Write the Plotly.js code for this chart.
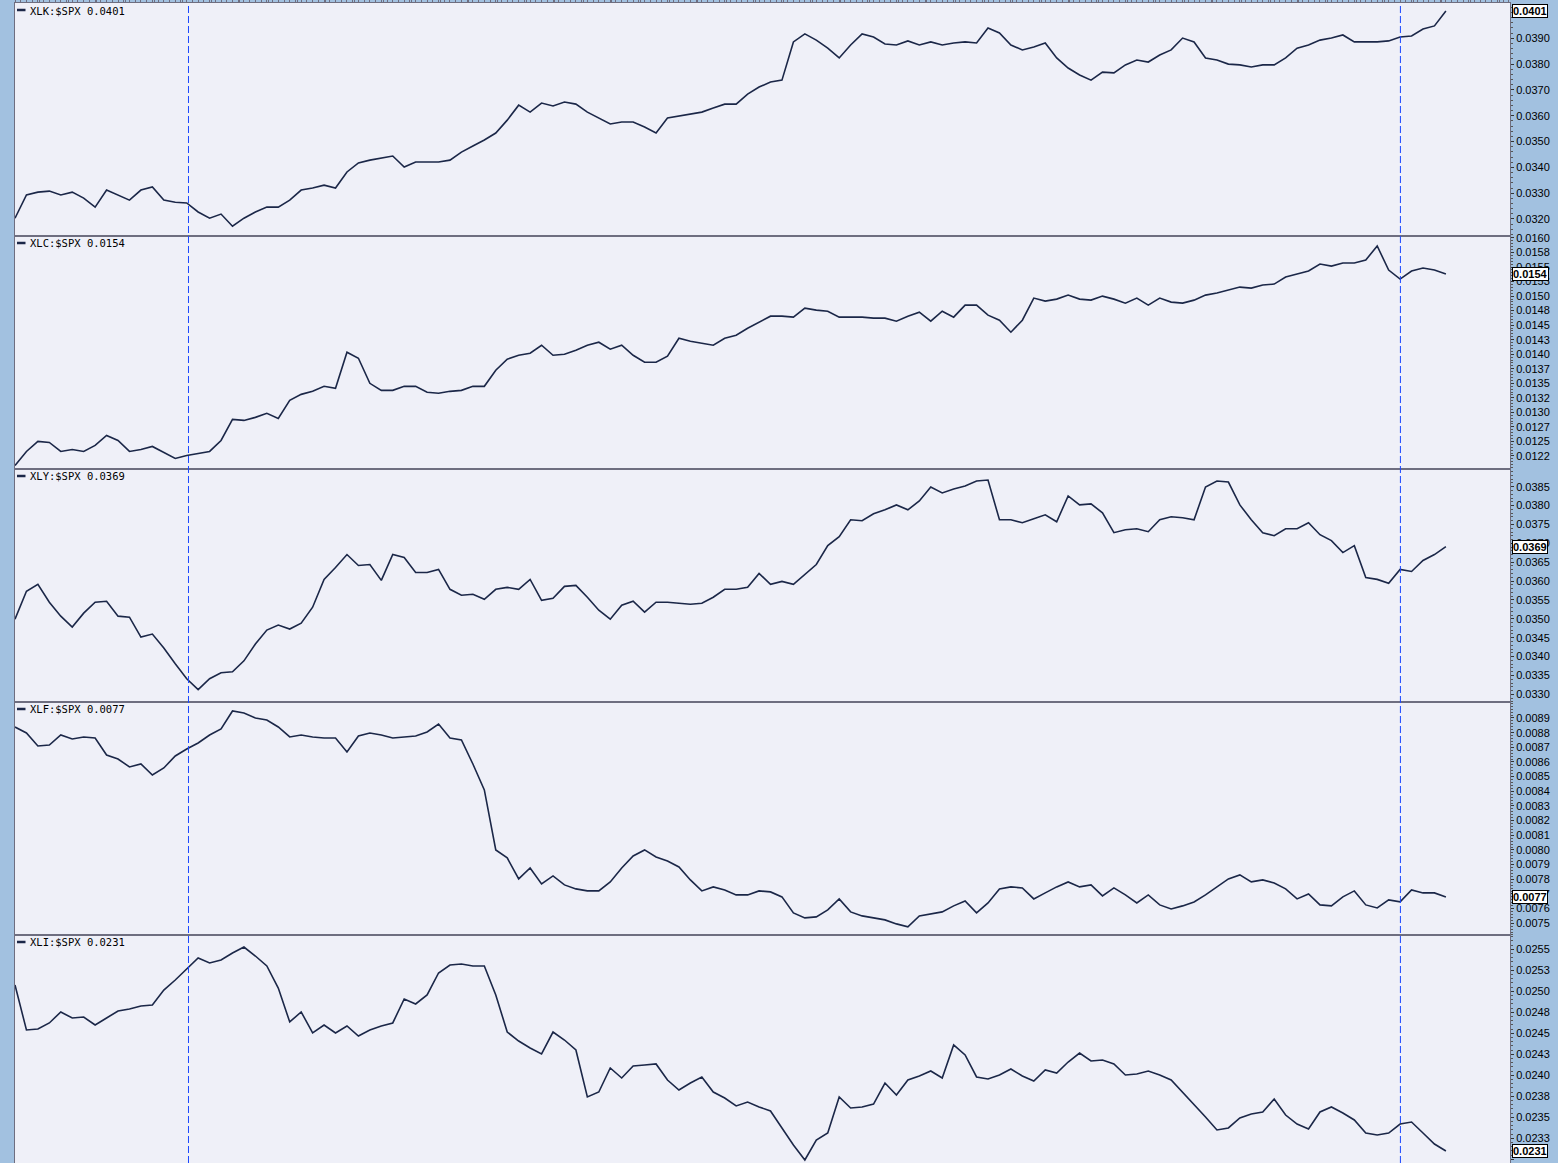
<!DOCTYPE html>
<html>
<head>
<meta charset="utf-8">
<script src="https://cdn.plot.ly/plotly-3.0.1.min.js"></script>
<style>
  html, body { margin: 0; padding: 0; background: #a2c1e0; }
  #chart { width: 1558px; height: 1163px; }
</style>
</head>
<body>
<div id="chart"></div>
<script>
// ---- data (ratio of sector ETF to S&P 500, sampled every other trading day) ----
const names = ["XLK:$SPX", "XLC:$SPX", "XLY:$SPX", "XLF:$SPX", "XLI:$SPX"];

const xlk = [0.03203,0.03293,0.03304,0.03308,0.03293,0.03304,0.03281,0.03246,0.03312,0.03293,
0.03273,0.03312,0.03324,0.03273,0.03265,0.03262,0.03227,0.03203,0.03219,0.03172,
0.03203,0.03227,0.03246,0.03246,0.03273,0.03312,0.03320,0.03331,0.03320,0.03382,
0.03417,0.03428,0.03436,0.03444,0.03401,0.03421,0.03421,0.03421,0.03428,0.03459,
0.03483,0.03506,0.03533,0.03583,0.03641,0.03614,0.03649,0.03638,0.03653,0.03645,
0.03614,0.03591,0.03568,0.03576,0.03576,0.03556,0.03533,0.03591,0.03599,0.03607,
0.03614,0.03630,0.03645,0.03645,0.03684,0.03711,0.03731,0.03738,0.03886,0.03917,
0.03893,0.03862,0.03824,0.03874,0.03917,0.03905,0.03878,0.03874,0.03890,0.03874,
0.03886,0.03874,0.03882,0.03886,0.03882,0.03940,0.03921,0.03874,0.03855,0.03866,
0.03882,0.03824,0.03785,0.03758,0.03738,0.03769,0.03766,0.03797,0.03816,0.03808,
0.03835,0.03855,0.03901,0.03886,0.03824,0.03816,0.03800,0.03797,0.03789,0.03797,
0.03797,0.03824,0.03862,0.03874,0.03893,0.03901,0.03913,0.03886,0.03886,0.03886,
0.03890,0.03905,0.03909,0.03936,0.03948,0.04006];

const xlc = [0.012086,0.012328,0.012500,0.012483,0.012328,0.012362,0.012328,0.012431,0.012604,0.012517,
0.012328,0.012362,0.012414,0.012311,0.012207,0.012259,0.012293,0.012328,0.012517,0.012879,
0.012862,0.012914,0.012983,0.012897,0.013207,0.013310,0.013362,0.013448,0.013414,0.014035,
0.013931,0.013500,0.013379,0.013379,0.013448,0.013448,0.013345,0.013328,0.013362,0.013379,
0.013448,0.013448,0.013724,0.013914,0.013983,0.014017,0.014155,0.013983,0.014000,0.014069,
0.014155,0.014207,0.014086,0.014155,0.013983,0.013862,0.013862,0.013966,0.014276,0.014224,
0.014190,0.014155,0.014276,0.014328,0.014448,0.014552,0.014655,0.014655,0.014638,0.014793,
0.014759,0.014741,0.014638,0.014638,0.014638,0.014621,0.014621,0.014569,0.014655,0.014724,
0.014569,0.014741,0.014638,0.014845,0.014845,0.014672,0.014586,0.014379,0.014586,0.014966,
0.014914,0.014948,0.015017,0.014948,0.014931,0.015000,0.014948,0.014879,0.014966,0.014845,
0.014966,0.014897,0.014879,0.014931,0.015017,0.015052,0.015104,0.015155,0.015138,0.015190,
0.015207,0.015328,0.015379,0.015431,0.015552,0.015517,0.015569,0.015569,0.015621,0.015862,
0.015448,0.015293,0.015431,0.015483,0.015448,0.015379];

const xly = [0.034992,0.035729,0.035913,0.035439,0.035071,0.034782,0.035150,0.035439,0.035466,0.035071,
0.035045,0.034518,0.034597,0.034229,0.033808,0.033413,0.033124,0.033413,0.033571,0.033597,
0.033887,0.034334,0.034703,0.034834,0.034729,0.034887,0.035308,0.036045,0.036361,0.036703,
0.036413,0.036439,0.036018,0.036703,0.036624,0.036229,0.036229,0.036308,0.035782,0.035624,
0.035650,0.035518,0.035782,0.035834,0.035782,0.036045,0.035492,0.035545,0.035861,0.035887,
0.035571,0.035229,0.034992,0.035361,0.035466,0.035176,0.035439,0.035439,0.035413,0.035387,
0.035413,0.035571,0.035782,0.035782,0.035834,0.036203,0.035913,0.035992,0.035913,0.036176,
0.036439,0.036939,0.037176,0.037624,0.037597,0.037782,0.037887,0.038018,0.037887,0.038124,
0.038492,0.038334,0.038439,0.038518,0.038650,0.038676,0.037624,0.037624,0.037545,0.037650,
0.037755,0.037571,0.038255,0.038018,0.038045,0.037808,0.037282,0.037361,0.037387,0.037308,
0.037624,0.037703,0.037676,0.037624,0.038492,0.038650,0.038624,0.038018,0.037624,0.037282,
0.037203,0.037387,0.037387,0.037545,0.037229,0.037071,0.036755,0.036939,0.036097,0.036045,
0.035940,0.036308,0.036255,0.036545,0.036703,0.036913];

const xlf = [0.0088386,0.0087977,0.0087091,0.0087159,0.0087841,0.0087568,0.0087705,0.0087636,0.0086478,0.0086205,
0.0085660,0.0085864,0.0085114,0.0085591,0.0086409,0.0086887,0.0087296,0.0087841,0.0088250,0.0089477,
0.0089341,0.0089000,0.0088863,0.0088386,0.0087705,0.0087841,0.0087705,0.0087636,0.0087636,0.0086682,
0.0087773,0.0087977,0.0087841,0.0087636,0.0087705,0.0087773,0.0088045,0.0088591,0.0087636,0.0087500,
0.0085864,0.0084092,0.0080002,0.0079457,0.0078025,0.0078775,0.0077684,0.0078230,0.0077616,0.0077343,
0.0077207,0.0077207,0.0077821,0.0078775,0.0079593,0.0080002,0.0079525,0.0079252,0.0078843,0.0077957,
0.0077207,0.0077480,0.0077275,0.0076934,0.0076934,0.0077207,0.0077139,0.0076798,0.0075707,0.0075367,
0.0075435,0.0075912,0.0076662,0.0075776,0.0075503,0.0075367,0.0075230,0.0074958,0.0074753,0.0075503,
0.0075639,0.0075776,0.0076185,0.0076525,0.0075707,0.0076389,0.0077343,0.0077480,0.0077412,0.0076662,
0.0077071,0.0077480,0.0077821,0.0077480,0.0077616,0.0076866,0.0077412,0.0076934,0.0076389,0.0076934,
0.0076253,0.0075980,0.0076185,0.0076457,0.0076934,0.0077480,0.0078025,0.0078298,0.0077821,0.0077957,
0.0077752,0.0077343,0.0076662,0.0077003,0.0076253,0.0076185,0.0076798,0.0077207,0.0076253,0.0076048,
0.0076594,0.0076457,0.0077275,0.0077071,0.0077071,0.0076798];

const xli = [0.025075,0.024539,0.024551,0.024623,0.024754,0.024682,0.024694,0.024599,0.024682,0.024765,
0.024789,0.024825,0.024837,0.025015,0.025134,0.025265,0.025396,0.025337,0.025373,0.025456,
0.025527,0.025420,0.025301,0.025039,0.024635,0.024754,0.024504,0.024599,0.024504,0.024587,
0.024468,0.024539,0.024587,0.024623,0.024908,0.024849,0.024956,0.025218,0.025313,0.025325,
0.025301,0.025301,0.024956,0.024515,0.024408,0.024325,0.024254,0.024515,0.024420,0.024301,
0.023742,0.023801,0.024087,0.023968,0.024111,0.024123,0.024135,0.023944,0.023825,0.023908,
0.023980,0.023801,0.023730,0.023635,0.023682,0.023623,0.023575,0.023373,0.023170,0.022992,
0.023230,0.023313,0.023742,0.023611,0.023623,0.023658,0.023908,0.023765,0.023944,0.023992,
0.024051,0.023968,0.024361,0.024242,0.023980,0.023956,0.024004,0.024075,0.023992,0.023932,
0.024063,0.024027,0.024158,0.024265,0.024170,0.024182,0.024135,0.024004,0.024015,0.024051,
0.024004,0.023944,0.023801,0.023646,0.023504,0.023349,0.023373,0.023492,0.023539,0.023563,
0.023718,0.023527,0.023420,0.023361,0.023563,0.023623,0.023551,0.023468,0.023313,0.023289,
0.023313,0.023420,0.023444,0.023313,0.023182,0.023099];

// vertical event markers (sample index)
const markerIdx = [15.156, 121.027];

// tick values / labels
const xlkTickVals = [0.032,0.033,0.034,0.035,0.036,0.037,0.038,0.039];
const xlcTickVals = [0.01225,0.0125,0.01275,0.013,0.01325,0.0135,0.01375,0.014,0.01425,0.0145,0.01475,0.015,0.01525,0.0155,0.01575,0.016];
const xlcTickText = ["0.0122","0.0125","0.0127","0.0130","0.0132","0.0135","0.0137","0.0140","0.0143","0.0145","0.0148","0.0150","0.0153","0.0155","0.0158","0.0160"];
const xlyTickVals = [0.033,0.0335,0.034,0.0345,0.035,0.0355,0.036,0.0365,0.037,0.0375,0.038,0.0385];
const xlfTickVals = [0.0075,0.0076,0.0077,0.0078,0.0079,0.008,0.0081,0.0082,0.0083,0.0084,0.0085,0.0086,0.0087,0.0088,0.0089];
const xliTickVals = [0.023,0.02325,0.0235,0.02375,0.024,0.02425,0.0245,0.02475,0.025,0.02525,0.0255];
const xliTickText = ["0.0230","0.0233","0.0235","0.0238","0.0240","0.0243","0.0245","0.0248","0.0250","0.0253","0.0255"];

// ---- layout ----
const series = [xlk, xlc, xly, xlf, xli];
const tickVals = [xlkTickVals, xlcTickVals, xlyTickVals, xlfTickVals, xliTickVals];
const tickText = [null, xlcTickText, null, null, xliTickText];
const minorStep = [0.0002, 0.00005, 0.0001, 0.00002, 0.00005];
const ranges = [[0.031340, 0.040368],[0.012026, 0.016034],[0.032797, 0.038969],[0.007420, 0.009009],[0.022956, 0.025670]];
const domains = [[0.799138, 1],[0.598276, 0.799138],[0.397414, 0.598276],[0.196552, 0.397414],[0, 0.196552]];
const panelH = [233, 233, 233, 233, 228];
const LINE = '#1b2748';
const BORDER = '#6e6e80';
const xRange = [0, 130.6];

const traces = [];
const layout = {
  width: 1558, height: 1163,
  margin: {l: 15, r: 48, t: 3, b: 0},
  paper_bgcolor: '#a2c1e0',
  plot_bgcolor: '#eff0f8',
  showlegend: false,
  font: {family: 'Liberation Sans, Arial, sans-serif', size: 11, color: '#000'},
  annotations: [],
  shapes: []
};

for (let i = 0; i < 5; i++) {
  const s = i === 0 ? '' : String(i + 1);
  traces.push({
    y: series[i], type: 'scatter', mode: 'lines',
    xaxis: 'x' + s, yaxis: 'y' + s,
    line: {color: LINE, width: 1.6}, hoverinfo: 'skip'
  });
  const xa = {
    domain: [0, 1], anchor: 'y' + s, range: xRange,
    showgrid: false, zeroline: false, showticklabels: false,
    showline: true, mirror: true, linecolor: BORDER, linewidth: 1,
    ticks: ''
  };
  if (i > 0) xa.matches = 'x';
  if (i === 0) {
    xa.side = 'top';
    xa.ticks = 'outside'; xa.ticklen = 3; xa.tickcolor = BORDER;
    xa.tick0 = 2.15; xa.dtick = 2.5;
    xa.minor = {ticks: 'outside', ticklen: 2, dtick: 0.5, tickcolor: BORDER};
  }
  layout['xaxis' + s] = xa;

  const ya = {
    domain: domains[i], anchor: 'x' + s, range: ranges[i], side: 'right',
    showgrid: false, zeroline: false,
    showline: true, mirror: true, linecolor: BORDER, linewidth: 1,
    ticks: 'outside', ticklen: 3, tickcolor: '#333', tickwidth: 1,
    tickfont: {family: 'Liberation Sans, Arial, sans-serif', size: 11, color: '#000'},
    tickmode: 'array', tickvals: tickVals[i], tickformat: '.4f',
    minor: {ticks: 'outside', ticklen: 2, dtick: minorStep[i], tickcolor: '#555'}
  };
  if (tickText[i]) ya.ticktext = tickText[i];
  layout['yaxis' + s] = ya;

  const last = series[i][series[i].length - 1];
  // panel label
  layout.annotations.push({
    xref: 'x' + s + ' domain', yref: 'y' + s + ' domain', x: 0, y: 1,
    xanchor: 'left', yanchor: 'middle', xshift: 13, yshift: -7.5,
    showarrow: false, text: names[i] + ' ' + last.toFixed(4),
    font: {family: 'DejaVu Sans Mono, monospace', size: 10.5, color: '#000'}
  });
  layout.shapes.push({
    type: 'line', xref: 'x' + s + ' domain', yref: 'y' + s + ' domain',
    x0: 2 / 1495, x1: 10.5 / 1495, y0: 1 - 7 / panelH[i], y1: 1 - 7 / panelH[i],
    line: {color: LINE, width: 2.5}
  });
  // current value box
  layout.annotations.push({
    xref: 'paper', yref: 'y' + s, x: 1, y: last,
    xanchor: 'left', yanchor: 'middle', xshift: 2,
    showarrow: false, text: '<b>' + last.toFixed(4) + '</b>',
    font: {family: 'Liberation Sans Narrow, Liberation Sans, Arial, sans-serif', size: 11, color: '#000'},
    bgcolor: '#ffffff', bordercolor: '#000', borderwidth: 1, borderpad: 0
  });
}

markerIdx.forEach(m => {
  layout.shapes.push({
    type: 'line', xref: 'x', yref: 'paper', x0: m, x1: m, y0: 0, y1: 1,
    line: {color: '#1a46ff', width: 1, dash: '7px,3px'}
  });
});

Plotly.newPlot('chart', traces, layout, {staticPlot: true, displayModeBar: false});
</script>
</body>
</html>
